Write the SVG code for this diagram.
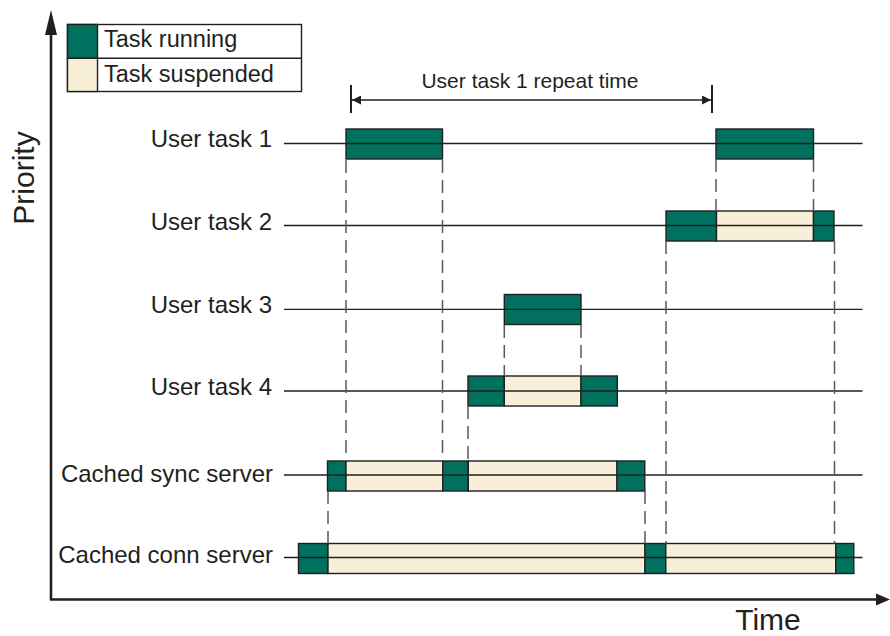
<svg xmlns="http://www.w3.org/2000/svg" width="890" height="636" viewBox="0 0 890 636">
<style>
text{font-family:"Liberation Sans",Arial,Helvetica,sans-serif;fill:#231f20}
.lbl{font-size:24px;text-anchor:end}
.run{fill:#00705f;stroke:#231f20;stroke-width:1.4}
.sus{fill:#f8efd9;stroke:#231f20;stroke-width:1.4}
.row{stroke:#231f20;stroke-width:1.3;fill:none}
.dash{stroke:#5a5a5a;stroke-width:1.5;stroke-dasharray:13 7;fill:none}
.axis{stroke:#231f20;stroke-width:2.6;fill:none}
</style>
<defs>
<marker id="ah" viewBox="0 0 10 10" refX="10" refY="5" markerWidth="12" markerHeight="9" markerUnits="userSpaceOnUse" orient="auto-start-reverse">
<path d="M0,0 L10,5 L0,10 z" fill="#231f20"/>
</marker>
</defs>

<g id="axes">
<line class="axis" x1="51" y1="600" x2="51" y2="24"/>
<path d="M51,10 L45,35 L57,35 z" fill="#231f20"/>
<line class="axis" x1="50" y1="599.5" x2="877" y2="599.5"/>
<path d="M890,599.5 L876,593.5 L876,605.5 z" fill="#231f20"/>
<text x="33.5" y="178" font-size="30" text-anchor="middle" transform="rotate(-90 33.5 178)">Priority</text>
<text x="768" y="630" font-size="30" text-anchor="middle">Time</text>
</g>

<g id="legend">
<rect x="67.5" y="24.5" width="234" height="67" fill="#fff" stroke="#231f20" stroke-width="1.4"/>
<rect class="run" x="67.5" y="24.5" width="30" height="33.8"/>
<rect class="sus" x="67.5" y="58.3" width="30" height="33.2"/>
<line x1="97.5" y1="58.3" x2="301.5" y2="58.3" stroke="#231f20" stroke-width="1.4"/>
<text x="104" y="47" font-size="23.5">Task running</text>
<text x="104" y="82" font-size="23.5">Task suspended</text>
</g>

<g id="repeat-time">
<line x1="351" y1="85" x2="351" y2="113" stroke="#231f20" stroke-width="2"/>
<line x1="712" y1="85" x2="712" y2="113" stroke="#231f20" stroke-width="2"/>
<line x1="352" y1="100" x2="711" y2="100" stroke="#231f20" stroke-width="1.3" marker-start="url(#ah)" marker-end="url(#ah)"/>
<text x="530" y="87.5" font-size="21" text-anchor="middle">User task 1 repeat time</text>
</g>

<g id="user-task-1">
<text class="lbl" x="272" y="147">User task 1</text>
<rect class="run" x="346" y="129" width="96.5" height="30"/>
<rect class="run" x="716" y="129" width="97.5" height="30"/>
<line class="row" x1="284" y1="143.5" x2="862.5" y2="143.5"/>
</g>

<g id="user-task-2">
<text class="lbl" x="272" y="229.5">User task 2</text>
<rect class="run" x="666" y="211" width="50.5" height="30"/>
<rect class="sus" x="716.5" y="211" width="97" height="30"/>
<rect class="run" x="813.5" y="211" width="20.5" height="30"/>
<line class="row" x1="284" y1="225.5" x2="862.5" y2="225.5"/>
</g>

<g id="user-task-3">
<text class="lbl" x="272" y="313">User task 3</text>
<rect class="run" x="504.3" y="294.5" width="76.7" height="30"/>
<line class="row" x1="284" y1="309.3" x2="862.5" y2="309.3"/>
</g>

<g id="user-task-4">
<text class="lbl" x="272" y="395">User task 4</text>
<rect class="run" x="468" y="376" width="36.3" height="30"/>
<rect class="sus" x="504.3" y="376" width="76.7" height="30"/>
<rect class="run" x="581" y="376" width="36.3" height="30"/>
<line class="row" x1="284" y1="391" x2="862.5" y2="391"/>
</g>

<g id="cached-sync-server">
<text class="lbl" x="273" y="481.5">Cached sync server</text>
<rect class="run" x="327.5" y="461" width="18.5" height="30"/>
<rect class="sus" x="346" y="461" width="96.7" height="30"/>
<rect class="run" x="442.7" y="461" width="25.6" height="30"/>
<rect class="sus" x="468.3" y="461" width="148.7" height="30"/>
<rect class="run" x="617" y="461" width="27.8" height="30"/>
<line class="row" x1="284" y1="475" x2="862.5" y2="475"/>
</g>

<g id="cached-conn-server">
<text class="lbl" x="273" y="562.5">Cached conn server</text>
<rect class="run" x="298.5" y="543.5" width="29.5" height="30"/>
<rect class="sus" x="328" y="543.5" width="317" height="30"/>
<rect class="run" x="645" y="543.5" width="20.8" height="30"/>
<rect class="sus" x="665.8" y="543.5" width="170" height="30"/>
<rect class="run" x="835.8" y="543.5" width="18" height="30"/>
<line class="row" x1="284" y1="557.5" x2="862.5" y2="557.5"/>
</g>

<g id="connectors">
<line class="dash" x1="346" y1="160" x2="346" y2="461"/>
<line class="dash" x1="442.5" y1="160" x2="442.5" y2="461"/>
<line class="dash" x1="468" y1="406" x2="468" y2="461"/>
<line class="dash" x1="504.3" y1="325" x2="504.3" y2="376"/>
<line class="dash" x1="581" y1="325" x2="581" y2="376"/>
<line class="dash" x1="328" y1="491" x2="328" y2="543.5"/>
<line class="dash" x1="645" y1="491" x2="645" y2="543.5"/>
<line class="dash" x1="666" y1="241" x2="666" y2="543.5"/>
<line class="dash" x1="834.5" y1="241" x2="834.5" y2="543.5"/>
<line class="dash" x1="716" y1="159" x2="716" y2="211"/>
<line class="dash" x1="813.5" y1="159" x2="813.5" y2="211"/>
</g>
</svg>
